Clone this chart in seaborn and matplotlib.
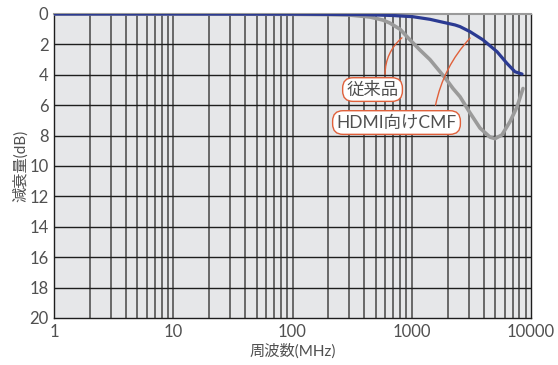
import matplotlib
matplotlib.use("Agg")
import matplotlib.pyplot as plt
import seaborn as sns
import pandas as pd
from matplotlib.ticker import FixedLocator, NullLocator, FixedFormatter

# Data
conv_freq = [1, 10, 100, 200, 303, 447, 574, 657, 797, 967, 1172, 1422, 1726, 1963, 2218,
             2540, 3077, 3733, 4530, 4990, 5710, 6670, 7640, 8570]
conv_db   = [0, 0, 0.02, 0.04, 0.07, 0.2, 0.4, 0.6, 1.0, 1.7, 2.37, 3.0, 3.8, 4.34, 4.9,
             5.44, 6.5, 7.5, 8.1, 8.2, 7.95, 7.08, 6.1, 4.9]
cmf_freq  = [1, 10, 100, 400, 700, 1024, 1422, 1726, 2305, 2540, 3077, 3955, 5190, 6290, 7340, 8410]
cmf_db    = [0, 0, 0.01, 0.04, 0.1, 0.18, 0.35, 0.5, 0.72, 0.83, 1.16, 1.7, 2.48, 3.25, 3.8, 3.95]

x_ticks = [1, 10, 100, 1000, 10000]
x_tick_labels = ["1", "10", "100", "1000", "10000"]
y_ticks = list(range(0, 21, 2))
label_conv = "従来品"
label_cmf = "HDMI向けCMF"
xlabel = "周波数(MHz)"
ylabel = "減衰量(dB)"

sns.set_style("white")
plt.rcParams['font.family'] = ['Lato', 'Noto Sans CJK JP', 'DejaVu Sans']
plt.rcParams['font.weight'] = 'normal'

txt = '#505050'
fig = plt.figure(figsize=(5.58, 3.65), dpi=100)
ax = fig.add_axes([54/558, 1-318/365, (531-54)/558, (318-14)/365])
ax.set_facecolor('#e6e7e9')

df_conv = pd.DataFrame({"freq": conv_freq, "db": conv_db})
df_cmf = pd.DataFrame({"freq": cmf_freq, "db": cmf_db})

ax.set_xscale('log')
ax.set_xlim(1, 10000)
ax.set_ylim(20, 0)

# grid
for dec in [1, 10, 100, 1000]:
    for m in range(1, 10):
        v = dec * m
        if v > 1:
            ax.axvline(v, color='#5e5e5e', lw=1.3, zorder=1)
for yv in y_ticks[1:-1]:
    ax.axhline(yv, color='#1e1e1e', lw=1.0, zorder=1)

sns.lineplot(data=df_conv, x="freq", y="db", ax=ax, color='#9a9a9a', lw=2.6, zorder=3,
             estimator=None, sort=False)
sns.lineplot(data=df_cmf, x="freq", y="db", ax=ax, color='#2b3a92', lw=2.3, zorder=4,
             estimator=None, sort=False)
for l in ax.lines:
    l.set_solid_joinstyle('round')
    l.set_solid_capstyle('round')

ax.xaxis.set_major_locator(FixedLocator(x_ticks))
ax.xaxis.set_major_formatter(FixedFormatter(x_tick_labels))
ax.xaxis.set_minor_locator(NullLocator())
ax.set_yticks(y_ticks)
ax.set_yticklabels([str(v) for v in y_ticks])
ax.tick_params(axis='both', length=0, labelsize=12, colors=txt)
ax.tick_params(axis='y', pad=4)
ax.tick_params(axis='x', pad=4)
ax.set_xlabel(xlabel, fontsize=11, color=txt, labelpad=3)
ax.set_ylabel(ylabel, fontsize=11, color=txt, labelpad=1)

for s in ['left', 'bottom', 'right']:
    ax.spines[s].set_color('#1e1e1e')
    ax.spines[s].set_linewidth(1.0)
ax.spines['top'].set_color('#9a9a9a')
ax.spines['top'].set_linewidth(1.5)

orange = '#e0603a'
bbox = dict(boxstyle='round,pad=0.22,rounding_size=0.6', fc='white', ec=orange, lw=1.0)
ax.annotate('', xy=(861, 1.45), xytext=(597, 4.14),
            arrowprops=dict(arrowstyle='-', color=orange, lw=1.0,
                            connectionstyle='arc3,rad=-0.25'), zorder=5)
ax.annotate('', xy=(3200, 1.45), xytext=(1567, 6.18),
            arrowprops=dict(arrowstyle='-', color=orange, lw=1.0,
                            connectionstyle='arc3,rad=-0.15'), zorder=5)
ax.text(469, 4.97, label_conv, ha='center', va='center', fontsize=12.5, color=txt,
        bbox=bbox, zorder=6)
ax.text(745, 7.14, label_cmf, ha='center', va='center', fontsize=12.5, color=txt,
        bbox=bbox, zorder=6)

fig.savefig('out.png', dpi=100)
